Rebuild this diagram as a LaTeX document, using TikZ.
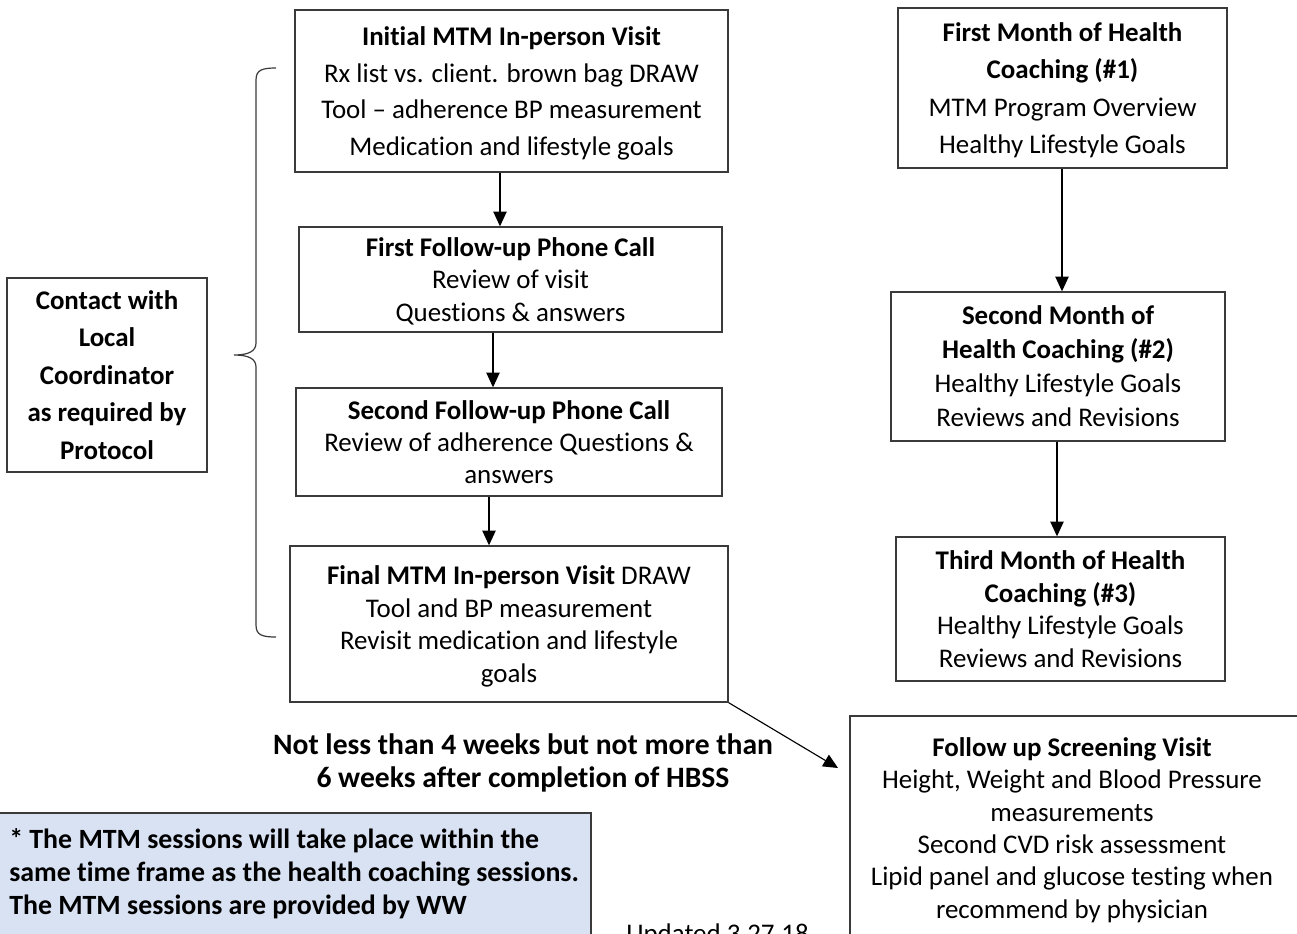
\documentclass[tikz,border=0pt]{standalone}
\usepackage{fontspec}
\setmainfont{Carlito}[Ligatures=NoCommon]
\usetikzlibrary{arrows.meta}
\definecolor{notefill}{HTML}{D9E2F3}
\definecolor{edge}{HTML}{3A3A3A}
\begin{document}
\begin{tikzpicture}[x=0.75pt,y=-0.75pt,
  box/.style={draw=edge,line width=1.05pt,align=center,inner sep=0pt,text depth=-8pt},
  ftA/.style={font=\fontsize{20.2}{27.5}\selectfont},
  ftB/.style={font=\fontsize{20.2}{24.3}\selectfont},
  arr/.style={line width=0.85pt,-{Triangle[length=11pt,width=10pt]}},
  txt/.style={align=center,inner sep=0pt}]
\clip (0,0) rectangle (1297,933);
\fill[white] (0,0) rectangle (1297,933);

% left column
\node[box,ftA,minimum width=324.75pt,minimum height=121.5pt] (init) at (511.5,91)
  {\textbf{Initial MTM In-person Visit}\\Rx list vs. client. brown bag DRAW\\Tool -- adherence BP measurement\\Medication and lifestyle goals};
\node[box,ftB,minimum width=317.25pt,minimum height=78.75pt] (fu1) at (510.5,279.5)
  {\textbf{First Follow-up Phone Call}\\Review of visit\\Questions \& answers};
\node[box,ftB,minimum width=319.5pt,minimum height=81pt] (fu2) at (509,442)
  {\textbf{Second Follow-up Phone Call}\\Review of adherence Questions \&\\answers};
\node[box,ftB,minimum width=328.5pt,minimum height=117pt] (final) at (509,624)
  {\textbf{Final MTM In-person Visit} DRAW\\Tool and BP measurement\\Revisit medication and lifestyle\\goals};
\node[box,font=\fontsize{20.2}{28.1}\selectfont\bfseries,minimum width=150pt,minimum height=145.5pt] (contact) at (107,375)
  {Contact with\\Local\\Coordinator\\as required by\\Protocol};

% right column
\node[box,font=\fontsize{20.2}{28.1}\selectfont,minimum width=246.75pt,minimum height=120pt] (m1) at (1062.5,88)
  {\textbf{First Month of Health}\\\textbf{Coaching (\#1)}\\MTM Program Overview\\Healthy Lifestyle Goals};
\node[box,font=\fontsize{20.2}{25.5}\selectfont,minimum width=250.5pt,minimum height=111.75pt] (m2) at (1058,366.5)
  {\textbf{Second Month of}\\\textbf{Health Coaching (\#2)}\\Healthy Lifestyle Goals\\Reviews and Revisions};
\node[box,ftB,minimum width=246.75pt,minimum height=108pt] (m3) at (1060.5,609)
  {\textbf{Third Month of Health}\\\textbf{Coaching (\#3)}\\Healthy Lifestyle Goals\\Reviews and Revisions};

% screening box (extends past the page)
\draw[edge,line width=1.05pt] (1310,716) -- (850,716) -- (850,950);
\coordinate (scrTL) at (850,716);
\node[txt,ftB] (screen) at (1072,830)
  {\textbf{Follow up Screening Visit}\\Height, Weight and Blood Pressure\\measurements\\Second CVD risk assessment\\Lipid panel and glucose testing when\\recommend by physician};

% note box
\path[fill=notefill,draw=edge,line width=1.2pt] (-5,813) -- (591,813) -- (591,950) -- (-5,950) -- cycle;
\node[txt,align=left,anchor=north west,font=\fontsize{20.9}{24.7}\selectfont\bfseries] (note) at (9,828)
  {* The MTM sessions will take place within the\\same time frame as the health coaching sessions.\\The MTM sessions are provided by WW};

% timing text
\node[txt,font=\fontsize{22.2}{24.7}\selectfont\bfseries] (timing) at (523,763)
  {Not less than 4 weeks but not more than\\6 weeks after completion of HBSS};

% partially visible date
\node[txt,anchor=north west,font=\fontsize{20.2}{22}\selectfont] (upd) at (626,924) {Updated 3.27.18};

% connectors
\draw[arr] (init.south -| 500,0) -- (fu1.north -| 500,0);
\draw[arr] (fu1.south -| 493,0) -- (fu2.north -| 493,0);
\draw[arr] (fu2.south -| 489,0) -- (final.north -| 489,0);
\draw[arr] (m1.south -| 1062,0) -- (m2.north -| 1062,0);
\draw[arr] (m2.south -| 1057,0) -- (m3.north -| 1057,0);
\draw[arr] (final.south east) -- ([xshift=-9pt,yshift=-39pt]scrTL);

% brace
\draw[line width=0.9pt,edge] (276,68) .. controls (262,68) and (256,70) .. (256,80)
  -- (256,343) .. controls (256,351) and (249,355) .. (234,355)
  .. controls (249,355) and (256,359) .. (256,367)
  -- (256,625) .. controls (256,635) and (262,637) .. (276,637);
\end{tikzpicture}
\end{document}
